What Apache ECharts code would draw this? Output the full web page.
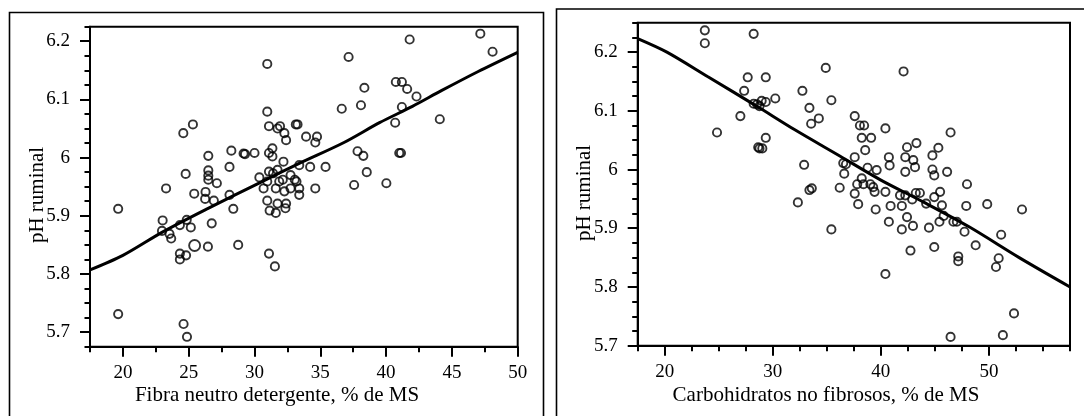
<!DOCTYPE html>
<html>
<head>
<meta charset="utf-8">
<script src="https://cdn.jsdelivr.net/npm/echarts@6/dist/echarts.min.js"></script>
<style>html,body{margin:0;padding:0;background:#fff}#c{width:1084px;height:416px}</style>
</head>
<body>
<div id="c"></div>
<script>
// ---- Left panel: FDN vs pH ----
const fdnX = [19.64,19.64,23.02,22.97,23.28,23.54,23.67,24.33,24.33,24.33,24.8,24.85,24.59,24.77,25.32,25.16,24.61,24.87,25.42,26.28,26.25,26.49,26.49,26.49,26.49,27.14,26.91,26.75,26.46,28.1,28.24,28.1,28.39,28.76,29.17,29.28,30.0,30.37,30.69,30.97,30.97,31.1,31.1,30.97,30.97,31.1,31.15,31.1,31.55,31.36,31.36,31.41,31.62,31.62,31.75,31.75,31.94,31.75,31.88,32.2,32.27,32.4,32.15,32.27,32.4,32.35,32.74,32.74,33.06,33.14,33.27,33.19,33.4,33.4,33.4,33.92,34.23,34.62,34.75,34.62,35.4,36.63,37.15,37.57,37.83,38.09,38.27,38.35,38.53,40.02,40.69,40.74,41.0,41.13,41.2,41.2,41.6,41.79,42.31,44.08,47.16,48.09];
const fdnPH = [5.912,5.731,5.892,5.874,5.947,5.869,5.861,5.884,5.835,5.825,5.832,5.893,6.042,5.972,6.057,5.880,5.714,5.692,5.938,5.941,5.929,6.003,5.978,5.969,5.962,5.956,5.926,5.887,5.847,5.984,6.012,5.936,5.912,5.850,6.007,6.006,6.008,5.966,5.947,6.079,6.161,6.054,6.008,5.959,5.926,5.976,5.909,5.835,5.813,6.016,6.002,5.973,5.947,5.905,5.921,6.050,6.054,5.979,5.959,5.993,6.042,6.030,5.962,5.942,5.921,5.913,5.970,5.947,5.962,6.057,6.057,5.959,5.987,5.947,5.936,6.036,5.984,6.026,6.036,5.947,5.984,6.084,6.173,5.953,6.011,6.090,6.003,6.120,5.975,5.956,6.060,6.130,6.008,6.008,6.130,6.087,6.118,6.203,6.105,6.066,6.213,6.182];
const fdnBigX = [25.45];
const fdnBigPH = [5.849];
const fdnFitX = [17.5,20,23,26.4,30.5,33.4,36.8,39.5,42,44.2,47,50];
const fdnFitPH = [5.807,5.832,5.872,5.912,5.958,5.990,6.026,6.060,6.088,6.115,6.148,6.181];

// ---- Right panel: CNF vs pH ----
const cnfX = [23.71,23.71,28.23,24.84,27.0,27.35,27.68,28.23,28.55,28.77,28.97,29.35,29.35,29.35,28.65,28.77,29.03,30.23,32.32,32.74,32.9,33.39,33.39,33.61,33.55,34.26,34.9,35.42,35.42,36.19,36.52,36.61,36.77,37.58,37.58,37.58,37.9,37.81,38.06,38.45,38.23,38.23,38.39,38.55,38.77,39.1,39.03,39.29,39.42,39.52,39.61,40.42,40.42,40.42,40.74,40.81,40.9,40.74,41.77,41.94,41.94,42.1,42.26,42.26,42.26,42.42,42.42,42.74,42.9,42.97,43.0,43.16,43.29,43.23,43.61,44.19,44.45,44.77,44.77,44.94,44.94,44.94,45.32,45.48,45.42,45.65,45.81,46.13,46.45,46.71,47.03,47.16,47.16,46.45,47.74,47.97,47.9,48.77,49.84,50.65,50.9,51.13,51.29,52.32,53.06];
const cnfPH = [6.237,6.215,6.231,6.063,6.091,6.134,6.157,6.112,6.111,6.108,6.117,6.157,6.115,6.054,6.038,6.036,6.036,6.121,5.944,6.134,6.008,6.105,5.965,5.968,6.078,6.087,6.173,6.118,5.898,5.969,6.011,5.993,6.009,6.091,6.021,5.959,5.941,5.975,6.075,6.075,6.054,5.985,5.975,6.033,6.003,6.054,5.975,5.970,5.962,5.932,5.999,6.070,5.962,5.822,6.021,6.007,5.938,5.911,5.956,5.938,5.898,6.167,6.021,5.996,5.956,6.038,5.919,5.862,5.949,5.904,6.016,6.004,6.045,5.960,5.960,5.942,5.901,6.024,6.000,5.990,5.953,5.868,6.037,5.962,5.911,5.939,5.921,5.996,6.063,5.911,5.911,5.852,5.844,5.715,5.894,5.975,5.938,5.871,5.941,5.834,5.849,5.889,5.718,5.755,5.932];
const cnfFitX = [17.5,20.2,24,28.5,32,36.2,40,44,48.2,52.8,57.5];
const cnfFitPH = [6.223,6.200,6.158,6.108,6.068,6.023,5.982,5.944,5.902,5.850,5.800];

// ---- Tick labels ----
const fdnTicks = [20,25,30,35,40,45,50];
const fdnMinor = [17.5,22.5,27.5,32.5,37.5,42.5,47.5];
const cnfTicks = [20,30,40,50];
const cnfMinor = [17.5,22.5,25,27.5,32.5,35,37.5,42.5,45,47.5,52.5,55,57.5];
const phTicks = [5.7,5.8,5.9,6,6.1,6.2];
const phMinorL = [5.675,5.725,5.75,5.775,5.825,5.85,5.875,5.925,5.95,5.975,6.025,6.05,6.075,6.125,6.15,6.175,6.225];
const phMinorR = [5.725,5.75,5.775,5.825,5.85,5.875,5.925,5.95,5.975,6.025,6.05,6.075,6.125,6.15,6.175,6.225,6.25];

const xTitleL = 'Fibra neutro detergente, % de MS';
const xTitleR = 'Carbohidratos no fibrosos, % de MS';
const yTitle = 'pH ruminal';

const FONT = '"Liberation Serif", "Times New Roman", serif';
const pairs = (xs, ys) => xs.map((x, i) => [x, ys[i]]);

function majorAxis(grid, min, max, ticks, pos, isX) {
  return {
    type: 'value', gridIndex: grid, min: min, max: max, position: pos,
    axisLine: { show: true, onZero: false, lineStyle: { color: '#000', width: 2 } },
    axisTick: { show: true, inside: false, length: 10, customValues: ticks, lineStyle: { color: '#000', width: 2 } },
    axisLabel: { show: true, customValues: ticks, margin: isX ? 17 : 20, color: '#000', fontFamily: FONT, fontSize: 19 },
    splitLine: { show: false }
  };
}
function minorAxis(grid, min, max, ticks, pos) {
  return {
    type: 'value', gridIndex: grid, min: min, max: max, position: pos,
    axisLine: { show: false, onZero: false },
    axisTick: { show: true, inside: false, length: 5.5, customValues: ticks, lineStyle: { color: '#000', width: 2 } },
    axisLabel: { show: false },
    splitLine: { show: false }
  };
}

const ringStyle = { color: 'rgba(255,255,255,0)', borderColor: '#000', borderWidth: 1.9 };

const option = {
  animation: false,
  backgroundColor: '#fff',
  grid: [
    { left: 90, top: 26.7, width: 427.7, height: 320, show: true, borderColor: '#000', borderWidth: 2, backgroundColor: 'transparent' },
    { left: 637.7, top: 22.7, width: 432.3, height: 323, show: true, borderColor: '#000', borderWidth: 2, backgroundColor: 'transparent' }
  ],
  xAxis: [
    majorAxis(0, 17.5, 50, fdnTicks, 'bottom', true),
    minorAxis(0, 17.5, 50, fdnMinor, 'bottom'),
    majorAxis(1, 17.5, 57.5, cnfTicks, 'bottom', true),
    minorAxis(1, 17.5, 57.5, cnfMinor, 'bottom')
  ],
  yAxis: [
    majorAxis(0, 5.675, 6.225, phTicks, 'left', false),
    minorAxis(0, 5.675, 6.225, phMinorL, 'left'),
    majorAxis(1, 5.7, 6.25, phTicks, 'left', false),
    minorAxis(1, 5.7, 6.25, phMinorR, 'left')
  ],
  series: [
    { type: 'scatter', xAxisIndex: 0, yAxisIndex: 0, symbol: 'circle', symbolSize: 8.2, itemStyle: ringStyle, data: pairs(fdnX, fdnPH), z: 3 },
    { type: 'scatter', xAxisIndex: 0, yAxisIndex: 0, symbol: 'circle', symbolSize: 11, itemStyle: ringStyle, data: pairs(fdnBigX, fdnBigPH), z: 3 },
    { type: 'line', xAxisIndex: 0, yAxisIndex: 0, smooth: 0.3, symbol: 'none', lineStyle: { color: '#000', width: 3 }, data: pairs(fdnFitX, fdnFitPH), z: 4 },
    { type: 'scatter', xAxisIndex: 2, yAxisIndex: 2, symbol: 'circle', symbolSize: 8.2, itemStyle: ringStyle, data: pairs(cnfX, cnfPH), z: 3 },
    { type: 'line', xAxisIndex: 2, yAxisIndex: 2, smooth: 0.3, symbol: 'none', lineStyle: { color: '#000', width: 3 }, data: pairs(cnfFitX, cnfFitPH), z: 4 }
  ],
  graphic: [
    { type: 'rect', shape: { x: 9.5, y: 12.5, width: 534, height: 420 }, style: { fill: 'none', stroke: '#000', lineWidth: 1.6 }, silent: true },
    { type: 'rect', shape: { x: 556.5, y: 9, width: 600, height: 420 }, style: { fill: 'none', stroke: '#000', lineWidth: 1.6 }, silent: true },
    { type: 'text', x: 277, y: 395, style: { text: xTitleL, font: '21px "Liberation Serif"', fill: '#000', textAlign: 'center', textVerticalAlign: 'middle' } },
    { type: 'text', x: 826, y: 395, style: { text: xTitleR, font: '21px "Liberation Serif"', fill: '#000', textAlign: 'center', textVerticalAlign: 'middle' } },
    { type: 'text', x: 37, y: 195, rotation: Math.PI / 2, style: { text: yTitle, font: '21px "Liberation Serif"', fill: '#000', textAlign: 'center', textVerticalAlign: 'middle' } },
    { type: 'text', x: 584, y: 193, rotation: Math.PI / 2, style: { text: yTitle, font: '21px "Liberation Serif"', fill: '#000', textAlign: 'center', textVerticalAlign: 'middle' } }
  ]
};

const chart = echarts.init(document.getElementById('c'), null, { renderer: 'canvas' });
chart.setOption(option);
</script>
</body>
</html>
